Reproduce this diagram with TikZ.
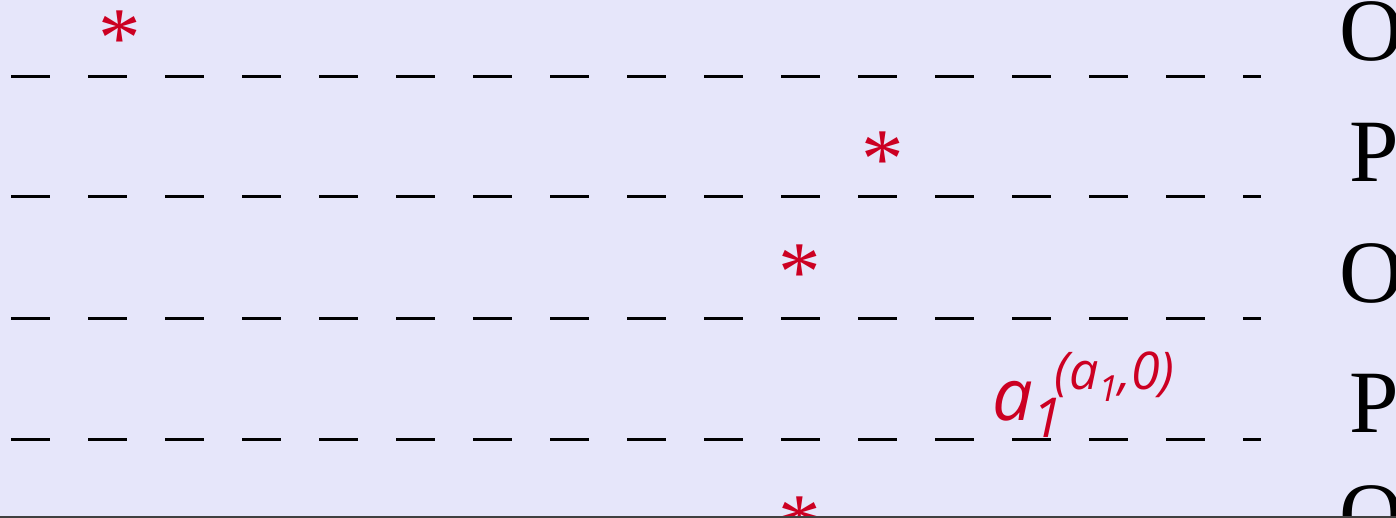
\documentclass[tikz,border=0pt]{standalone}
\usepackage{fontspec}
\setmainfont{Liberation Serif}
\newfontfamily\labfont{Open Sans}
\usetikzlibrary{positioning}
\definecolor{bgc}{RGB}{230,230,250}
\definecolor{starc}{RGB}{204,0,34}

\begin{document}
\begin{tikzpicture}[x=1pt, y=-1pt,
  dashrow/.style={line width=3pt, dash pattern=on 39pt off 38pt},
  star/.style={text=starc, font=\fontsize{85}{85}\selectfont, inner sep=0pt, anchor=base},
  lett/.style={font=\fontsize{89}{89}\selectfont, inner sep=0pt, anchor=base west},
  lab/.style={text=starc, font=\labfont\itshape\fontsize{72}{72}\selectfont, inner sep=0pt, anchor=base west}]
  \useasboundingbox (0,0) rectangle (1396,518);
  \clip (0,0) rectangle (1396,518);
  \fill[bgc] (0,0) rectangle (1396,518);
  % rows of dashes
  \foreach \y [count=\i] in {77,197,318,439}
    \draw[dashrow] (11,\y) coordinate (l\i) -- (1261,\y) coordinate (r\i);
  % letters on the right
  \foreach \t/\x/\y [count=\i] in {O/1339/61, P/1349/182, O/1339/302, P/1349/432, O/1339/544}
    \node[lett] (let\i) at (\x,\y) {\t};
  % stars
  \node[star] (s1) at (119.5,67) {*};
  \node[star] (s2) at (883,188) {*};
  \node[star] (s3) at (800,301) {*};
  \node[star] (s5) at (800,552) {*};
  % label
  \node[lab] (lbl) at (992,420) {a\raisebox{-17pt}{\fontsize{55}{55}\selectfont 1}\kern-9pt\raisebox{31pt}{\fontsize{52}{52}\selectfont (a\raisebox{-12pt}{\fontsize{36}{36}\selectfont 1},0)}};
  \draw[line width=1.5pt, black!75] (0,517) -- (1396,517);
\end{tikzpicture}
\end{document}
